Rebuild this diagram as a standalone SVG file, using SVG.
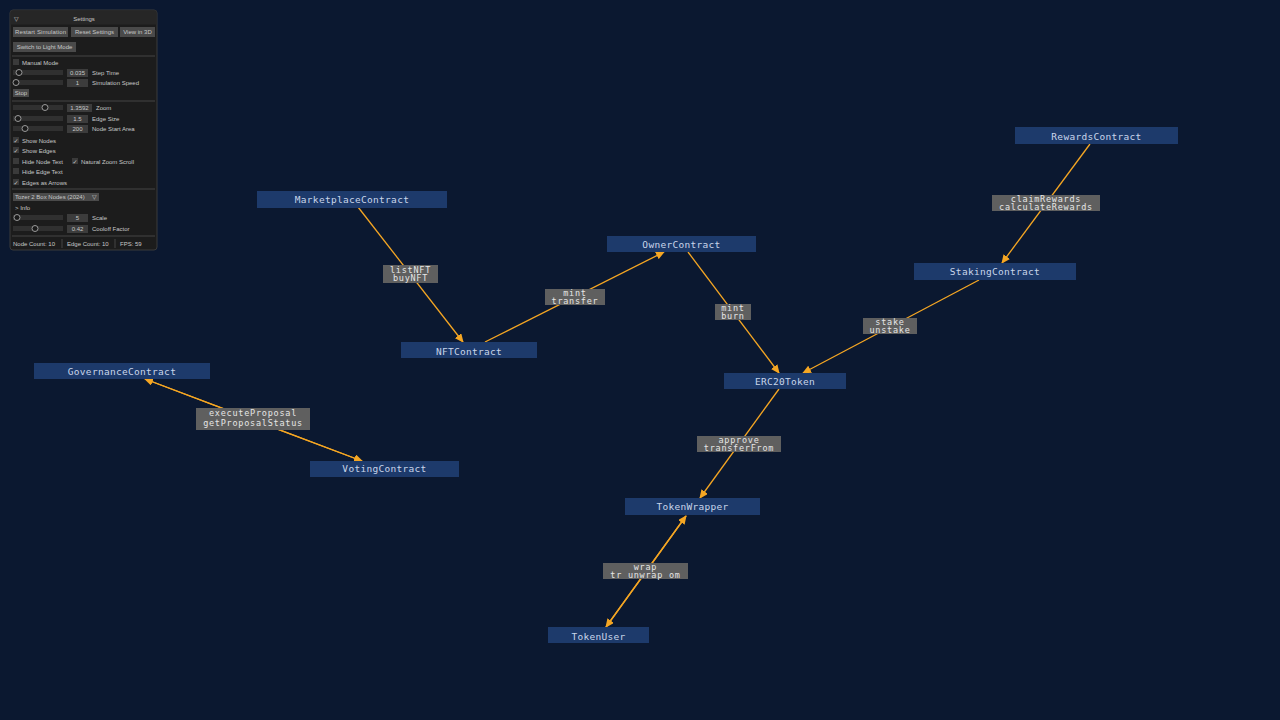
<svg xmlns="http://www.w3.org/2000/svg" width="1280" height="720" viewBox="0 0 1280 720">
<defs>
<marker id="arr" markerWidth="9" markerHeight="8" refX="8" refY="4" orient="auto" markerUnits="userSpaceOnUse">
<path d="M0,0 L9,4 L0,8 Z" fill="#f5a623"/>
</marker>
<style>
.node rect{fill:#1d3a6b;}
.node text{font-family:"DejaVu Sans Mono","Liberation Mono",monospace;font-size:9.5px;letter-spacing:0.3px;fill:#c9d6ea;text-anchor:middle;}
.edge{stroke:#f5a623;stroke-width:1.3;fill:none;marker-end:url(#arr);}
.lbl rect{fill:#5f5f5f;}
.lbl text{font-family:"DejaVu Sans Mono","Liberation Mono",monospace;font-size:8.5px;letter-spacing:0.75px;fill:#e6e6e6;text-anchor:middle;}
.ui{font-family:"Liberation Sans","DejaVu Sans",sans-serif;font-size:6px;fill:#c8c8c8;}
.btn{fill:#4a4a4a;}
.trk{fill:#303030;}
.knob{fill:#1a1a1a;stroke:#9a9a9a;stroke-width:1;}
.val{fill:#3c3c3c;}
.cb{fill:#3a3a3a;}
.sep{stroke:#444;stroke-width:1;}
</style>
</defs>
<rect width="1280" height="720" fill="#0b1830"/>

<g id="connectors">
<path class="edge" d="M358,207 L463,342"/>
<path class="edge" d="M485,342 L664,252"/>
<path class="edge" d="M688,252 L779,373"/>
<path class="edge" d="M979,280 L803,373"/>
<path class="edge" d="M1090,144 L1002,263"/>
<path class="edge" d="M779,389 L700,498"/>
<path class="edge" d="M362,461 L145,379"/>
<path class="edge" d="M145,379 L362,461"/>
<path class="edge" d="M606,627 L686,516"/>
<path class="edge" d="M686,516 L606,627"/>
</g>

<g id="edge-labels">
<g class="lbl"><rect x="383" y="265" width="55" height="18"/><text x="410.5" y="272.5">listNFT</text><text x="410.5" y="281">buyNFT</text></g>
<g class="lbl"><rect x="545" y="289" width="60" height="16"/><text x="575" y="295.5">mint</text><text x="575" y="303.5">transfer</text></g>
<g class="lbl"><rect x="715" y="304" width="36" height="16"/><text x="733" y="310.5">mint</text><text x="733" y="318.5">burn</text></g>
<g class="lbl"><rect x="863" y="318" width="54" height="16"/><text x="890" y="324.5">stake</text><text x="890" y="332.5">unstake</text></g>
<g class="lbl"><rect x="992" y="195" width="108" height="16"/><text x="1046" y="201.5">claimRewards</text><text x="1046" y="209.5">calculateRewards</text></g>
<g class="lbl"><rect x="697" y="436" width="84" height="16"/><text x="739" y="442.5">approve</text><text x="739" y="450.5">transferFrom</text></g>
<g class="lbl"><rect x="196" y="408" width="114" height="22"/><text x="253" y="416">executeProposal</text><text x="253" y="426">getProposalStatus</text></g>
<g class="lbl"><rect x="603" y="563" width="85" height="16"/><text x="645.5" y="569.5">wrap</text><text x="645.5" y="577.5">tr unwrap om</text></g>
</g>

<g id="MarketplaceContract" class="node"><rect x="257" y="191" width="190" height="17"/><text x="352" y="203">MarketplaceContract</text></g>
<g id="OwnerContract" class="node"><rect x="607" y="236" width="149" height="16"/><text x="681.5" y="248">OwnerContract</text></g>
<g id="NFTContract" class="node"><rect x="401" y="342" width="136" height="16"/><text x="469" y="355">NFTContract</text></g>
<g id="RewardsContract" class="node"><rect x="1015" y="127" width="163" height="17"/><text x="1096.5" y="140">RewardsContract</text></g>
<g id="StakingContract" class="node"><rect x="914" y="263" width="162" height="17"/><text x="995" y="275">StakingContract</text></g>
<g id="ERC20Token" class="node"><rect x="724" y="373" width="122" height="16"/><text x="785" y="385">ERC20Token</text></g>
<g id="GovernanceContract" class="node"><rect x="34" y="363" width="176" height="16"/><text x="122" y="375">GovernanceContract</text></g>
<g id="VotingContract" class="node"><rect x="310" y="461" width="149" height="16"/><text x="384.5" y="472">VotingContract</text></g>
<g id="TokenWrapper" class="node"><rect x="625" y="498" width="135" height="17"/><text x="692.5" y="510">TokenWrapper</text></g>
<g id="TokenUser" class="node"><rect x="548" y="627" width="101" height="16"/><text x="598.5" y="640">TokenUser</text></g>

<g id="settings-panel">
<rect x="10" y="10" width="147" height="240" rx="3" fill="#1c1c1c" stroke="#3a3a3a" stroke-width="1"/>
<rect x="10.5" y="10.5" width="146" height="14" fill="#262626"/>
<text x="14" y="20.5" class="ui" font-size="8">▽</text>
<text x="84" y="21" class="ui" font-size="8.5" text-anchor="middle">Settings</text>
<rect class="btn" x="13" y="27" width="55" height="10"/><text class="ui" x="40.5" y="34.3" text-anchor="middle" textLength="51">Restart Simulation</text>
<rect class="btn" x="71" y="27" width="47" height="10"/><text class="ui" x="94.5" y="34.3" text-anchor="middle">Reset Settings</text>
<rect class="btn" x="120" y="27" width="35" height="10"/><text class="ui" x="137.5" y="34.3" text-anchor="middle">View in 3D</text>
<rect class="btn" x="13" y="42" width="63" height="10"/><text class="ui" x="44.5" y="49.3" text-anchor="middle">Switch to Light Mode</text>
<line class="sep" x1="12" y1="56" x2="155" y2="56"/>
<rect class="cb" x="13" y="59" width="6" height="6"/><text class="ui" x="22" y="64.5">Manual Mode</text>
<rect class="trk" x="13" y="70" width="50" height="5"/><circle class="knob" cx="19" cy="72.5" r="3"/>
<rect class="val" x="67" y="69" width="21" height="8"/><text class="ui" x="77.5" y="75" text-anchor="middle">0.035</text><text class="ui" x="92" y="75">Step Time</text>
<rect class="trk" x="13" y="80" width="50" height="5"/><circle class="knob" cx="16" cy="82.5" r="3"/>
<rect class="val" x="67" y="79" width="21" height="8"/><text class="ui" x="77.5" y="85" text-anchor="middle">1</text><text class="ui" x="92" y="85">Simulation Speed</text>
<rect class="btn" x="13" y="89" width="16" height="8"/><text class="ui" x="21" y="95.3" text-anchor="middle">Stop</text>
<line class="sep" x1="12" y1="101" x2="155" y2="101"/>
<rect class="trk" x="13" y="105" width="50" height="5"/><circle class="knob" cx="45" cy="107.5" r="3"/>
<rect class="val" x="67" y="104" width="25" height="8"/><text class="ui" x="79.5" y="110" text-anchor="middle">1.3592</text><text class="ui" x="96" y="110">Zoom</text>
<rect class="trk" x="13" y="116" width="50" height="5"/><circle class="knob" cx="18" cy="118.5" r="3"/>
<rect class="val" x="67" y="115" width="21" height="8"/><text class="ui" x="77.5" y="121" text-anchor="middle">1.5</text><text class="ui" x="92" y="121">Edge Size</text>
<rect class="trk" x="13" y="126" width="50" height="5"/><circle class="knob" cx="25" cy="128.5" r="3"/>
<rect class="val" x="67" y="125" width="21" height="8"/><text class="ui" x="77.5" y="131" text-anchor="middle">200</text><text class="ui" x="92" y="131">Node Start Area</text>
<rect class="cb" x="13" y="137" width="6" height="6"/><text class="ui" x="13.5" y="142.5">✓</text><text class="ui" x="22" y="142.5">Show Nodes</text>
<rect class="cb" x="13" y="147" width="6" height="6"/><text class="ui" x="13.5" y="152.5">✓</text><text class="ui" x="22" y="152.5">Show Edges</text>
<rect class="cb" x="13" y="158" width="6" height="6"/><text class="ui" x="22" y="163.5">Hide Node Text</text>
<rect class="cb" x="72" y="158" width="6" height="6"/><text class="ui" x="72.5" y="163.5">✓</text><text class="ui" x="81" y="163.5">Natural Zoom Scroll</text>
<rect class="cb" x="13" y="168" width="6" height="6"/><text class="ui" x="22" y="173.5">Hide Edge Text</text>
<rect class="cb" x="13" y="179" width="6" height="6"/><text class="ui" x="13.5" y="184.5">✓</text><text class="ui" x="22" y="184.5">Edges as Arrows</text>
<line class="sep" x1="12" y1="189" x2="155" y2="189"/>
<rect class="btn" x="13" y="193" width="86" height="8"/><text class="ui" x="15" y="199.3">Tozer 2 Box Nodes (2024)</text><text class="ui" x="92" y="199.3">▽</text>
<text class="ui" x="15" y="210">&gt; Info</text>
<rect class="trk" x="13" y="215" width="50" height="5"/><circle class="knob" cx="17" cy="217.5" r="3"/>
<rect class="val" x="67" y="214" width="21" height="8"/><text class="ui" x="77.5" y="220" text-anchor="middle">5</text><text class="ui" x="92" y="220">Scale</text>
<rect class="trk" x="13" y="226" width="50" height="5"/><circle class="knob" cx="35" cy="228.5" r="3"/>
<rect class="val" x="67" y="225" width="21" height="8"/><text class="ui" x="77.5" y="231" text-anchor="middle">0.42</text><text class="ui" x="92" y="231">Cooloff Factor</text>
<line class="sep" x1="12" y1="236" x2="155" y2="236"/>
<text class="ui" x="13" y="245.5">Node Count: 10</text>
<line class="sep" x1="62" y1="239" x2="62" y2="248"/>
<text class="ui" x="67" y="245.5">Edge Count: 10</text>
<line class="sep" x1="115" y1="239" x2="115" y2="248"/>
<text class="ui" x="120" y="245.5">FPS: 59</text>
</g>
</svg>
